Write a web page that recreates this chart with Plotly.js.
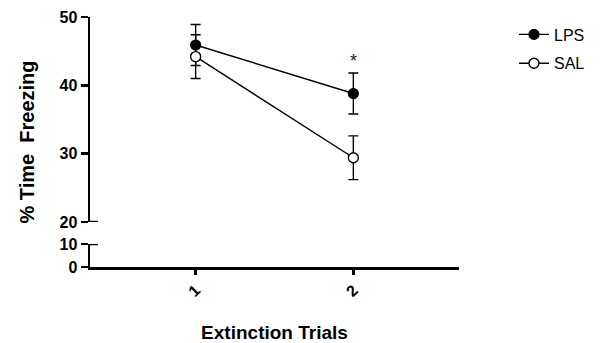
<!DOCTYPE html>
<html>
<head>
<meta charset="utf-8">
<script src="https://cdn.plot.ly/plotly-3.0.1.min.js"></script>
<style>html,body{margin:0;padding:0;background:#fff;}#chart{width:602px;height:343px;}</style>
</head>
<body>
<div id="chart"></div>
<script>
const trials = [1, 2];
const trialLabels = ['1', '2'];
const lpsMean = [45.9, 38.8];
const lpsErr = [3.0, 3.0];
const salMean = [44.2, 29.4];
const salErr = [3.2, 3.2];
const upperTicks = [20, 30, 40, 50];
const lowerTicks = [0, 10];
const sigTrial = 2;
const sigY = 43.5;

const FONT = 'Liberation Sans, Arial, sans-serif';

const traces = [
  {
    x: trials, y: lpsMean, name: 'LPS', type: 'scatter', mode: 'lines+markers',
    xaxis: 'x', yaxis: 'y', legendgroup: 'lps',
    line: {color: '#000', width: 1.4},
    marker: {symbol: 'circle', size: 10, color: '#000', line: {color: '#000', width: 1.2}},
    error_y: {type: 'data', array: lpsErr, visible: true, color: '#000', thickness: 1.4, width: 5}
  },
  {
    x: trials, y: salMean, name: 'SAL', type: 'scatter', mode: 'lines+markers',
    xaxis: 'x', yaxis: 'y', legendgroup: 'sal',
    line: {color: '#000', width: 1.4},
    marker: {symbol: 'circle', size: 10, color: '#fff', line: {color: '#000', width: 1.4}},
    error_y: {type: 'data', array: salErr, visible: true, color: '#000', thickness: 1.4, width: 5}
  },
  {
    // carrier for the full-height y title (no marks)
    x: [], y: [], type: 'scatter', mode: 'markers', xaxis: 'x', yaxis: 'y3',
    showlegend: false, hoverinfo: 'skip'
  }
];

const layout = {
  width: 602, height: 343,
  margin: {l: 90, r: 138, t: 17, b: 76},
  paper_bgcolor: '#fff', plot_bgcolor: 'rgba(0,0,0,0)',
  font: {family: FONT, color: '#000'},
  showlegend: true,
  legend: {
    x: 1.149, xanchor: 'left', y: 0.998, yanchor: 'top',
    traceorder: 'grouped', tracegroupgap: 5,
    font: {family: FONT, size: 16, color: '#000'},
    bgcolor: 'rgba(0,0,0,0)', itemwidth: 30
  },
  xaxis: {
    range: [0.33, 2.67], anchor: 'y2',
    showline: true, linewidth: 2.5, linecolor: '#000',
    ticks: 'outside', ticklen: 5, tickwidth: 2.5, tickcolor: '#000',
    tickvals: trials, ticktext: trialLabels, tickangle: -45,
    tickfont: {family: FONT, size: 16, color: '#000', weight: 'bold'},
    showgrid: false, zeroline: false,
    title: {text: '<b>Extinction Trials</b>', font: {family: FONT, size: 19, color: '#000'}, standoff: 29}
  },
  yaxis: {
    domain: [0.18, 1], range: [20, 50], anchor: 'x',
    showline: true, linewidth: 2.5, linecolor: '#000',
    ticks: 'outside', ticklen: 7, tickwidth: 2.5, tickcolor: '#000',
    tickvals: upperTicks,
    tickfont: {family: FONT, size: 16, color: '#000', weight: 'bold'},
    showgrid: false, zeroline: false
  },
  yaxis2: {
    domain: [0, 0.092], range: [0, 10], anchor: 'x',
    showline: true, linewidth: 2.5, linecolor: '#000',
    ticks: 'outside', ticklen: 7, tickwidth: 2.5, tickcolor: '#000',
    tickvals: lowerTicks,
    tickfont: {family: FONT, size: 16, color: '#000', weight: 'bold'},
    showgrid: false, zeroline: false
  },
  yaxis3: {
    domain: [0, 1], range: [0, 1], anchor: 'x',
    showline: false, showticklabels: false, ticks: '', showgrid: false, zeroline: false,
    title: {text: '<b>% Time\u00A0 Freezing</b>', font: {family: FONT, size: 20, color: '#000'}, standoff: 49}
  },
  shapes: [
    {type: 'line', xref: 'paper', yref: 'y', xsizemode: 'pixel', xanchor: 0, x0: -1, x1: 8, y0: 20, y1: 20, line: {color: '#000', width: 2.5}},
    {type: 'line', xref: 'paper', yref: 'y2', xsizemode: 'pixel', xanchor: 0, x0: -1, x1: 8, y0: 10, y1: 10, line: {color: '#000', width: 2.5}}
  ],
  annotations: [
    {x: sigTrial, y: sigY, xref: 'x', yref: 'y', text: '*', showarrow: false, font: {family: FONT, size: 18, color: '#222'}}
  ]
};

Plotly.newPlot('chart', traces, layout, {displayModeBar: false, staticPlot: true});
</script>
</body>
</html>
